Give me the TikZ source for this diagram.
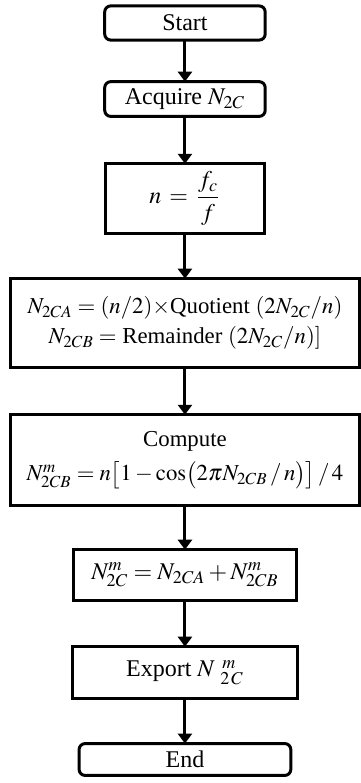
\documentclass[tikz,border=0pt]{standalone}
\usepackage{amsmath}
\usepackage{mathptmx}
\usepackage[no-math]{fontspec}
\setmainfont{Liberation Serif}
\usetikzlibrary{positioning, arrows.meta}

\begin{document}
\begin{tikzpicture}[
    term/.style={rectangle, rounded corners=3pt, draw=black, line width=1.5pt,
                 minimum height=0.6cm, inner sep=2pt, outer sep=0pt, font=\large, align=center},
    proc/.style={rectangle, draw=black, line width=1.5pt,
                 inner sep=2pt, outer sep=0pt, font=\large, align=center},
    wide/.style={proc, minimum width=6.13cm, font=\fontsize{11.4}{14}\selectfont},
    conn/.style={-{Triangle[length=5pt, width=7pt]}, line width=1.5pt, black}
]
  \useasboundingbox (0,0) rectangle (6.326,-13.759);
  % Terminals and steps
  \node[term, minimum width=2.82cm, minimum height=0.6cm] (start) at (3.25,-0.404) {Start};
  \node[term, minimum width=2.82cm, minimum height=0.61cm] (acq) at (3.25,-1.740) {Acquire $N_{2C}$};
  \node[proc, minimum width=2.79cm, minimum height=1.22cm] (ratio) at (3.25,-3.488) {$n\,=\,\dfrac{f_c}{f}$};
  \node[wide, minimum height=1.56cm] (split) at (3.25,-5.676)
    {$N_{2CA} = (n/2)\times$Quotient $(2N_{2C}/n)$\\[1pt]
     $N_{2CB} = $ Remainder $(2N_{2C}/n)]$};
  \node[wide, minimum height=1.59cm] (comp) at (3.25,-8.083)
    {Compute\\[3pt]
     $N^{m}_{2CB} = n\bigl[1-\cos\bigl(2\pi N_{2CB}\,/\,n\bigr)\bigr]\,/\,4$};
  \node[proc, minimum width=3.93cm, minimum height=0.89cm] (sum) at (3.25,-10.104)
    {$N^{m}_{2C} = N_{2CA} + N^{m}_{2CB}$};
  \node[proc, minimum width=3.95cm, minimum height=0.91cm] (exp) at (3.25,-11.818)
    {Export $N\;{}^{\,m}_{2\,C}$};
  \node[term, minimum width=3.72cm, minimum height=0.56cm] (end) at (3.25,-13.346) {End};

  \foreach \a/\b in {start/acq, acq/ratio, ratio/split, split/comp, comp/sum, sum/exp, exp/end}{
    \draw[conn] (\a.south) -- (\b.north);
  }
\end{tikzpicture}
\end{document}
